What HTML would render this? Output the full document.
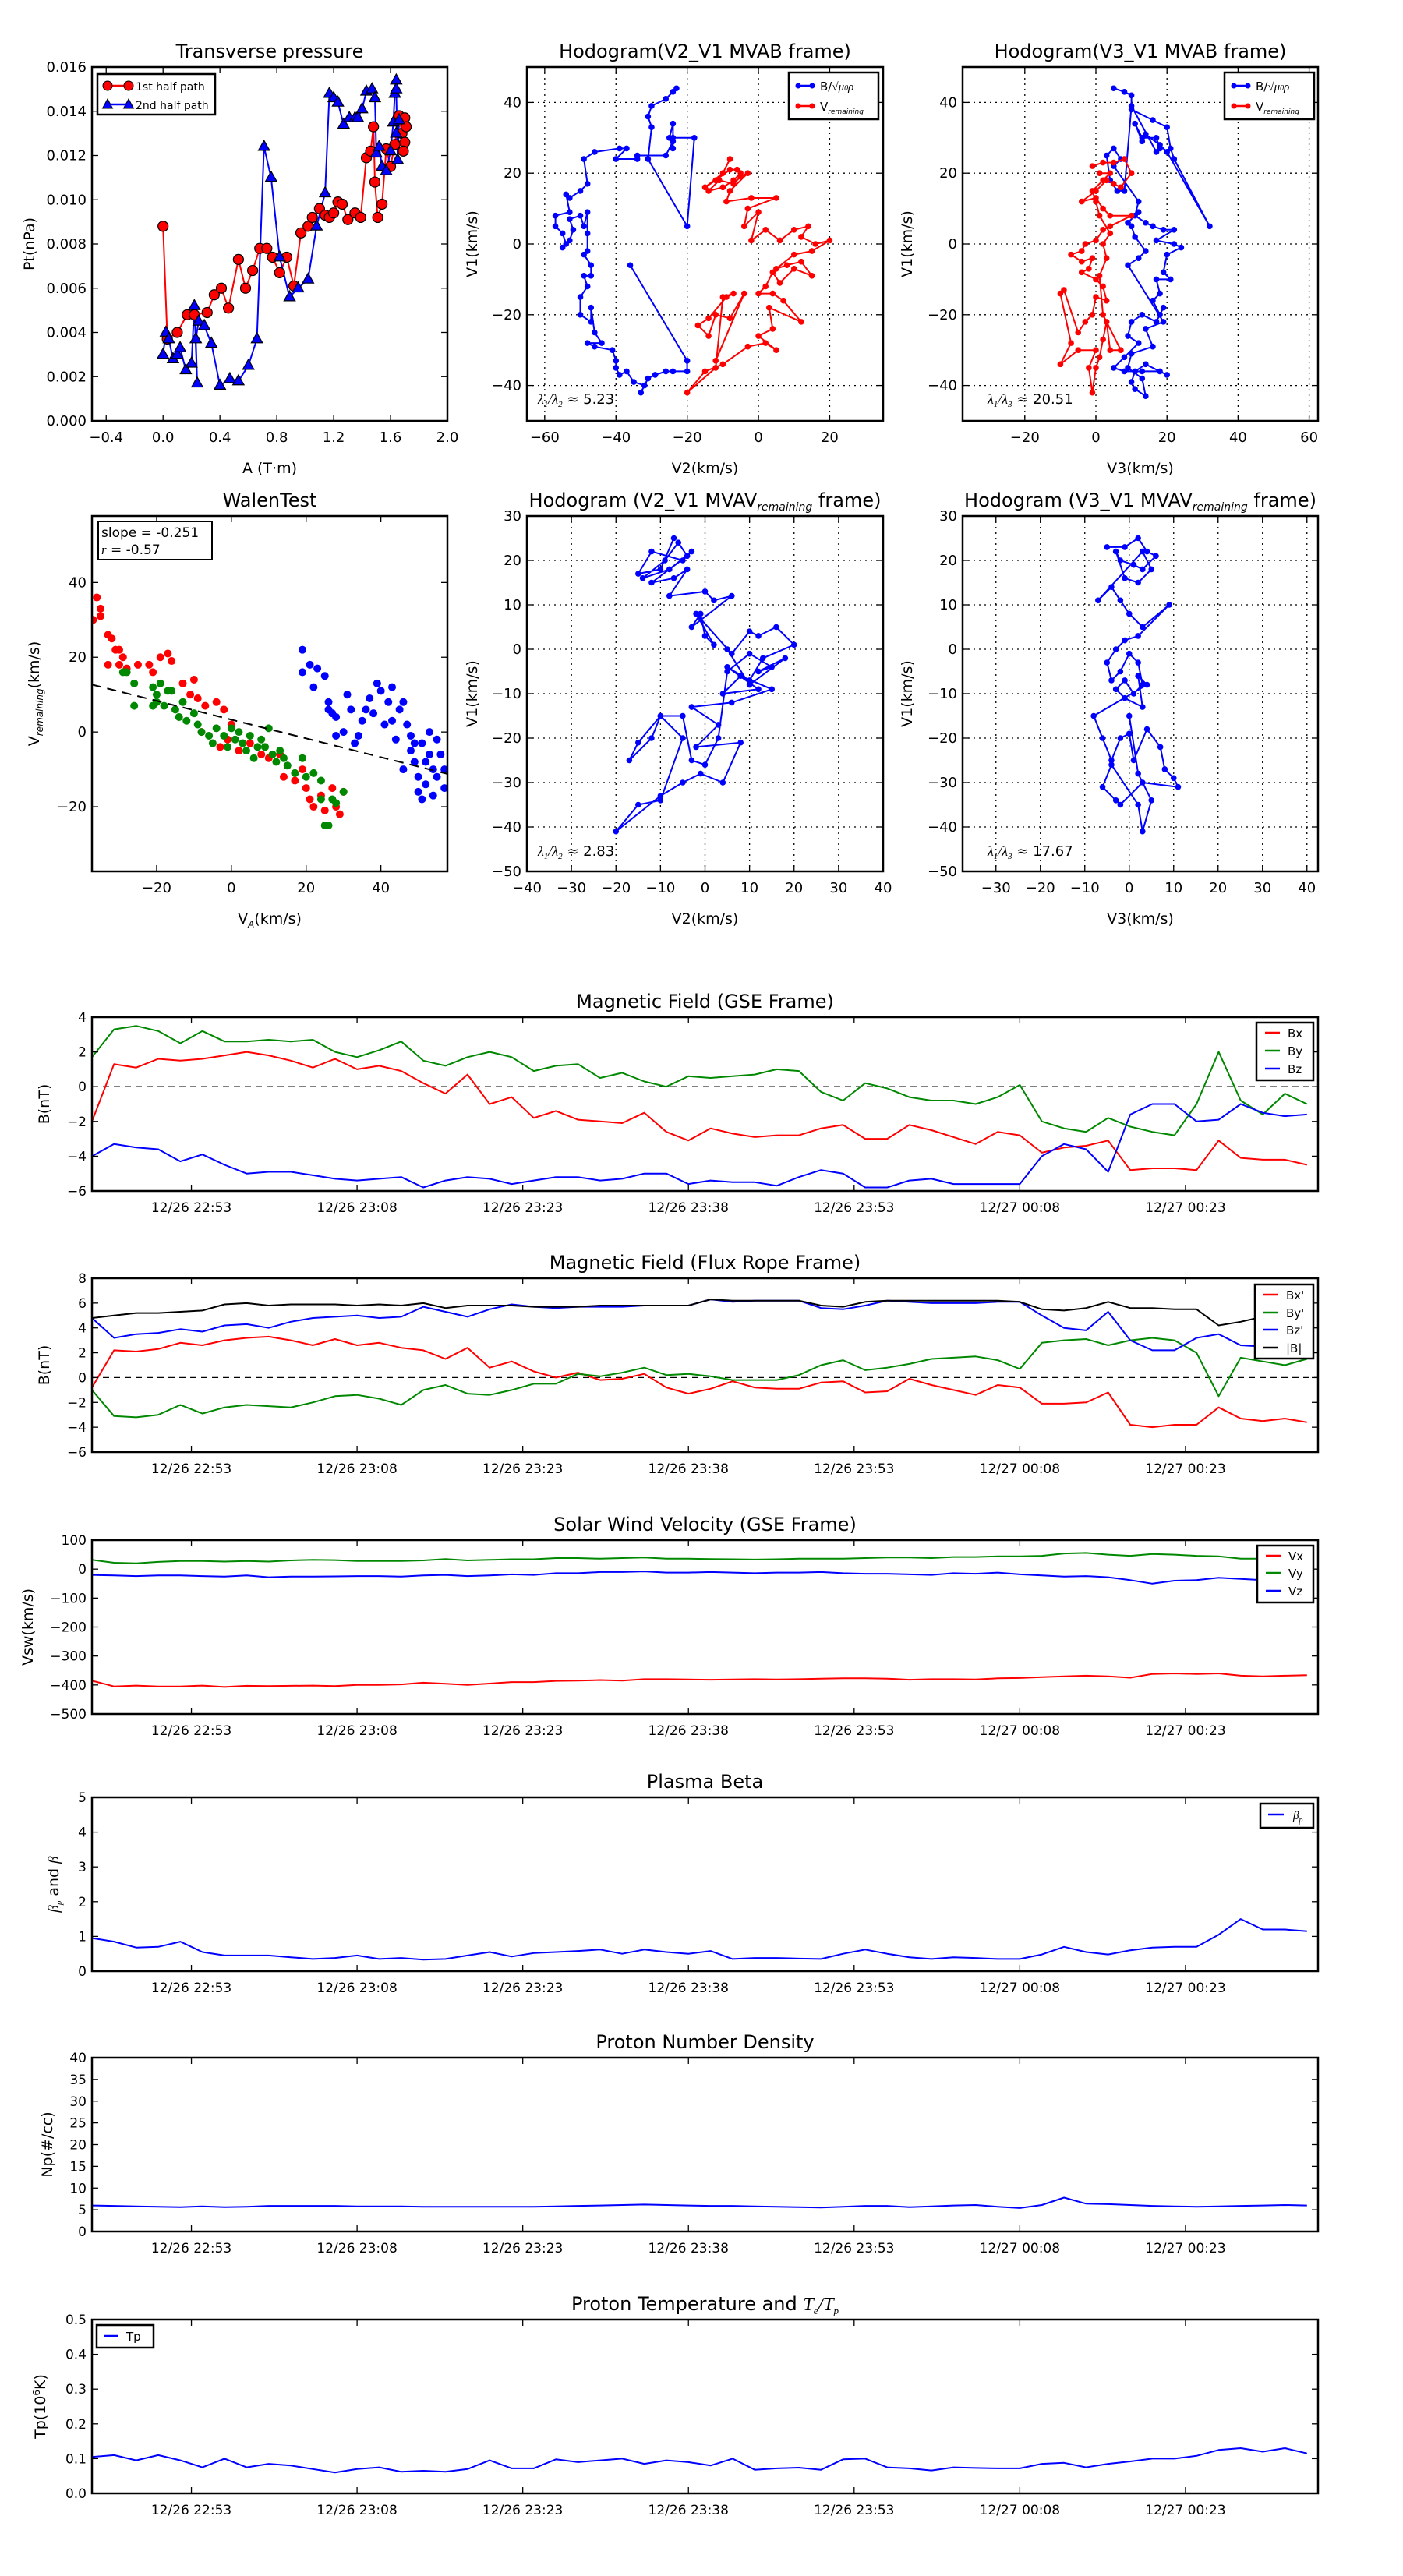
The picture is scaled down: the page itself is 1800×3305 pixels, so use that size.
<!DOCTYPE html>
<html><head><meta charset="utf-8"><style>
html,body{margin:0;padding:0;background:#fff;}
svg text{font-family:"DejaVu Sans","Liberation Sans",sans-serif;}
</style></head><body>
<svg id="fig" xmlns="http://www.w3.org/2000/svg" width="1800" height="3300" viewBox="0 0 1800 3300">
<rect width="1800" height="3300" fill="#fff"/>
</svg>
<script>
// ---------- time series data (minutes after 12/26 22:44) ----------
const T = [0,2,4,6,8,10,12,14,16,18,20,22,24,26,28,30,32,34,36,38,40,42,44,46,48,50,52,54,56,58,60,62,64,66,68,70,72,74,76,78,80,82,84,86,88,90,92,94,96,98,100,102,104,106,108,110];
const TIME_TICKS = [9,24,39,54,69,84,99];
const TIME_LABELS = ["12/26 22:53","12/26 23:08","12/26 23:23","12/26 23:38","12/26 23:53","12/27 00:08","12/27 00:23"];
const BX_GSE = [-2.0,1.3,1.1,1.6,1.5,1.6,1.8,2.0,1.8,1.5,1.1,1.6,1.0,1.2,0.9,0.2,-0.4,0.7,-1.0,-0.6,-1.8,-1.4,-1.9,-2.0,-2.1,-1.5,-2.6,-3.1,-2.4,-2.7,-2.9,-2.8,-2.8,-2.4,-2.2,-3.0,-3.0,-2.2,-2.5,-2.9,-3.3,-2.6,-2.8,-3.8,-3.5,-3.4,-3.1,-4.8,-4.7,-4.7,-4.8,-3.1,-4.1,-4.2,-4.2,-4.5];
const BY_GSE = [1.7,3.3,3.5,3.2,2.5,3.2,2.6,2.6,2.7,2.6,2.7,2.0,1.7,2.1,2.6,1.5,1.2,1.7,2.0,1.7,0.9,1.2,1.3,0.5,0.8,0.3,0.0,0.6,0.5,0.6,0.7,1.0,0.9,-0.3,-0.8,0.2,-0.1,-0.6,-0.8,-0.8,-1.0,-0.6,0.1,-2.0,-2.4,-2.6,-1.8,-2.3,-2.6,-2.8,-1.0,2.0,-0.8,-1.6,-0.4,-1.0];
const BZ_GSE = [-4.0,-3.3,-3.5,-3.6,-4.3,-3.9,-4.5,-5.0,-4.9,-4.9,-5.1,-5.3,-5.4,-5.3,-5.2,-5.8,-5.4,-5.2,-5.3,-5.6,-5.4,-5.2,-5.2,-5.4,-5.3,-5.0,-5.0,-5.6,-5.4,-5.5,-5.5,-5.7,-5.2,-4.8,-5.0,-5.8,-5.8,-5.4,-5.3,-5.6,-5.6,-5.6,-5.6,-4.0,-3.3,-3.6,-4.9,-1.6,-1.0,-1.0,-2.0,-1.9,-1.0,-1.5,-1.7,-1.6];
const BX_FR = [-0.8,2.2,2.1,2.3,2.8,2.6,3.0,3.2,3.3,3.0,2.6,3.1,2.6,2.8,2.4,2.2,1.5,2.4,0.8,1.3,0.5,0.0,0.4,-0.2,-0.1,0.3,-0.8,-1.3,-0.9,-0.3,-0.8,-0.9,-0.9,-0.4,-0.3,-1.2,-1.1,-0.1,-0.6,-1.0,-1.4,-0.6,-0.8,-2.1,-2.1,-2.0,-1.2,-3.8,-4.0,-3.8,-3.8,-2.4,-3.3,-3.5,-3.3,-3.6];
const BY_FR = [-1.0,-3.1,-3.2,-3.0,-2.2,-2.9,-2.4,-2.2,-2.3,-2.4,-2.0,-1.5,-1.4,-1.7,-2.2,-1.0,-0.6,-1.3,-1.4,-1.0,-0.5,-0.5,0.3,0.1,0.4,0.8,0.2,0.3,0.1,-0.2,-0.2,-0.2,0.2,1.0,1.4,0.6,0.8,1.1,1.5,1.6,1.7,1.4,0.7,2.8,3.0,3.1,2.6,3.0,3.2,3.0,2.0,-1.5,1.6,1.3,1.0,1.5];
const BZ_FR = [4.8,3.2,3.5,3.6,3.9,3.7,4.2,4.3,4.0,4.5,4.8,4.9,5.0,4.8,4.9,5.7,5.3,4.9,5.5,5.9,5.7,5.6,5.7,5.7,5.7,5.8,5.8,5.8,6.3,6.1,6.2,6.2,6.2,5.6,5.5,5.8,6.2,6.1,6.0,6.0,6.0,6.1,6.1,5.0,4.0,3.8,5.3,3.0,2.2,2.2,3.2,3.5,2.6,2.5,3.0,2.7];
const BT_FR = [4.8,5.0,5.2,5.2,5.3,5.4,5.9,6.0,5.8,5.9,5.9,5.9,5.8,5.9,5.8,6.0,5.6,5.8,5.8,5.8,5.7,5.7,5.7,5.8,5.8,5.8,5.8,5.8,6.3,6.2,6.2,6.2,6.2,5.8,5.7,6.1,6.2,6.2,6.2,6.2,6.2,6.2,6.1,5.5,5.4,5.6,6.1,5.6,5.6,5.5,5.5,4.2,4.5,4.9,4.8,4.9];
const VX = [-385,-405,-402,-405,-405,-402,-407,-403,-404,-403,-402,-404,-400,-400,-398,-392,-396,-400,-395,-390,-390,-386,-385,-383,-385,-380,-380,-381,-382,-381,-380,-381,-380,-378,-377,-377,-378,-382,-380,-380,-381,-377,-376,-373,-370,-368,-370,-375,-362,-360,-362,-360,-368,-370,-368,-366];
const VY = [32,22,20,25,28,28,26,28,26,30,32,31,28,28,28,30,35,30,32,34,34,38,38,36,38,40,36,36,35,34,33,34,36,36,36,38,40,40,38,42,42,44,44,46,54,56,50,46,52,50,46,44,36,36,44,40];
const VZ = [-20,-22,-24,-22,-22,-24,-26,-22,-28,-26,-26,-25,-24,-24,-26,-22,-20,-24,-22,-18,-20,-14,-14,-10,-10,-8,-12,-12,-10,-12,-14,-12,-12,-10,-14,-16,-16,-18,-20,-14,-16,-12,-18,-22,-26,-24,-28,-38,-50,-40,-38,-30,-34,-38,-42,-40];
const BETA = [0.95,0.85,0.68,0.7,0.85,0.55,0.45,0.45,0.45,0.4,0.35,0.38,0.45,0.35,0.38,0.33,0.35,0.45,0.55,0.42,0.52,0.55,0.58,0.62,0.5,0.62,0.55,0.5,0.58,0.35,0.38,0.38,0.36,0.35,0.5,0.62,0.5,0.4,0.35,0.4,0.38,0.35,0.35,0.48,0.7,0.55,0.48,0.6,0.68,0.7,0.7,1.05,1.5,1.2,1.2,1.15];
const NP = [6.0,5.9,5.8,5.7,5.6,5.8,5.6,5.7,5.9,5.9,5.9,5.9,5.8,5.8,5.8,5.7,5.7,5.7,5.7,5.7,5.7,5.8,5.9,6.0,6.1,6.2,6.1,6.0,5.9,5.9,5.8,5.7,5.6,5.5,5.7,5.9,5.9,5.6,5.8,6.0,6.1,5.7,5.4,6.1,7.8,6.4,6.3,6.1,5.9,5.8,5.7,5.8,5.9,6.0,6.1,6.0];
const TP = [0.105,0.11,0.095,0.11,0.095,0.075,0.1,0.075,0.085,0.08,0.07,0.06,0.07,0.075,0.062,0.065,0.062,0.07,0.095,0.072,0.072,0.098,0.09,0.095,0.1,0.085,0.095,0.09,0.08,0.1,0.068,0.072,0.074,0.068,0.098,0.1,0.075,0.072,0.066,0.075,0.073,0.072,0.072,0.085,0.088,0.075,0.085,0.092,0.1,0.1,0.108,0.125,0.13,0.12,0.13,0.115];

// ---------- scatter / hodogram data ----------
const PT_RED_A = [0,0.03,0.1,0.17,0.22,0.31,0.36,0.41,0.46,0.53,0.58,0.63,0.68,0.73,0.77,0.82,0.87,0.92,0.97,1.02,1.05,1.1,1.14,1.17,1.2,1.23,1.26,1.3,1.35,1.39,1.43,1.46,1.48,1.49,1.51,1.54,1.57,1.6,1.63,1.66,1.68,1.7,1.71,1.7,1.69];
const PT_RED_P = [0.0088,0.0037,0.004,0.0048,0.0048,0.0049,0.0057,0.006,0.0051,0.0073,0.006,0.0068,0.0078,0.0078,0.0074,0.0067,0.0074,0.0061,0.0085,0.0088,0.0092,0.0096,0.0093,0.0092,0.0094,0.0099,0.0098,0.0091,0.0094,0.0092,0.0119,0.0122,0.0133,0.0108,0.0092,0.0098,0.0123,0.0115,0.0125,0.0138,0.013,0.0137,0.0133,0.0126,0.0122];
const PT_BLUE_A = [0,0.02,0.04,0.07,0.1,0.12,0.16,0.2,0.22,0.24,0.23,0.25,0.29,0.34,0.4,0.47,0.53,0.6,0.66,0.71,0.76,0.82,0.89,0.95,1.02,1.08,1.14,1.17,1.2,1.23,1.27,1.31,1.35,1.37,1.4,1.43,1.47,1.49,1.5,1.52,1.54,1.57,1.6,1.62,1.63,1.64,1.64,1.65,1.66,1.64];
const PT_BLUE_P = [0.003,0.004,0.0037,0.0028,0.003,0.0033,0.0023,0.0026,0.0052,0.0017,0.0037,0.0045,0.0043,0.0035,0.0016,0.0019,0.0018,0.0025,0.0037,0.0124,0.011,0.0074,0.0056,0.006,0.0064,0.0088,0.0103,0.0148,0.0146,0.0144,0.0134,0.0137,0.0137,0.0137,0.0141,0.0149,0.015,0.0146,0.0121,0.0124,0.0115,0.0113,0.0122,0.0135,0.0148,0.0154,0.015,0.0118,0.0136,0.013];
const H1B_X = [-23,-24,-26,-30,-31,-30,-31,-20,-18,-24,-24,-25,-24,-24,-26,-34,-34,-40,-37,-39,-46,-49,-48,-50,-53,-54,-53,-57,-57,-55,-54,-55,-53,-52,-53,-50,-49,-48,-48,-48,-49,-47,-47,-49,-48,-50,-50,-47,-47,-46,-44,-48,-46,-41,-40,-40,-39,-37,-35,-32,-33,-31,-29,-26,-24,-20,-20,-36];
const H1B_Y = [44,43,41,39,36,33,24,5,30,30,34,30,27,29,25,25,24,24,27,27,26,24,17,15,13,14,9,8,5,3,0,-1,1,4,7,8,5,9,3,-2,-3,-6,-9,-9,-12,-15,-20,-22,-18,-25,-28,-28,-29,-30,-33,-35,-37,-36,-39,-40,-42,-38,-37,-36,-36,-36,-33,-6];
const H1R_X = [-8,-10,-15,-12,-8,-6,-5,-7,-10,-14,-11,-7,-5,-3,-8,-9,-2,5,-3,-4,0,-2,2,6,10,14,12,16,20,15,10,5,8,12,15,10,6,4,2,0,4,7,12,3,4,0,5,2,-3,-10,-15,-20,-12,-10,-7,-9,-14,-17,-14,-12,-8,-4,-12];
const H1R_Y = [24,20,16,18,21,21,20,18,16,15,18,17,19,20,15,12,13,13,10,5,9,1,4,1,4,5,2,0,1,-2,-3,-7,-6,-5,-9,-7,-11,-8,-12,-14,-14,-16,-22,-18,-24,-26,-30,-28,-29,-34,-36,-42,-35,-15,-14,-15,-21,-23,-26,-20,-21,-14,-33];
const H2B_X = [5,8,10,10,16,20,21,22,32,20,18,14,13,11,13,17,18,17,10,8,6,4,3,5,7,5,12,11,14,16,19,22,17,22,24,20,19,21,17,18,16,18,19,17,13,10,9,12,8,5,8,13,18,20,14,11,10,11,14,13,9,10,16,14,19,9,12,14,11,10,9,12];
const H2B_Y = [44,43,42,38,35,33,27,24,5,26,28,31,29,34,30,30,27,26,39,15,15,18,25,27,24,22,12,8,6,5,4,4,1,0,-1,-3,-8,-10,-10,-14,-16,-20,-18,-22,-20,-22,-26,-28,-32,-35,-36,-36,-36,-37,-34,-36,-39,-41,-43,-38,-35,-31,-29,-24,-22,-6,-4,-2,2,5,6,9];
const H2R_X = [-1,2,5,8,10,7,5,3,0,-4,0,2,4,10,4,2,0,-3,-4,-7,-4,-1,-2,-4,0,2,3,0,-1,-3,-5,-9,-10,-7,-10,-5,0,-2,-1,0,1,2,3,4,7,2,1,3,2,4,1,0,-1,2,4,1];
const H2R_Y = [22,23,23,24,20,16,17,18,15,12,13,10,8,8,5,4,1,0,-2,-3,-5,-4,-7,-8,-10,-12,-16,-15,-20,-22,-25,-13,-14,-28,-34,-30,-30,-35,-42,-35,-32,-27,-22,-30,-30,-20,-9,-4,0,3,8,12,15,18,20,20];
const WALEN_RED_X = [-37,-36,-35,-35,-33,-32,-31,-30,-29,-28,-25,-22,-21,-19,-17,-16,-13,-11,-10,-9,-7,-4,-2,0,-1,-3,2,5,8,10,14,17,19,20,21,22,24,25,27,28,29,30,-30,-33,-8,13];
const WALEN_RED_Y = [30,36,33,31,26,25,22,18,20,17,18,18,16,20,21,19,13,10,14,9,7,8,6,2,-2,-4,-5,-3,-6,-7,-12,-13,-10,-15,-18,-20,-17,-21,-15,-20,-22,-16,22,18,0,-6];
const WALEN_GREEN_X = [-29,-28,-26,-26,-21,-20,-20,-19,-18,-17,-15,-14,-13,-12,-10,-9,-8,-6,-5,-4,-2,-1,0,1,2,3,4,5,6,7,8,9,10,11,12,13,14,15,17,19,20,22,24,24,25,26,27,28,30,-21,-16];
const WALEN_GREEN_Y = [16,16,13,7,12,10,8,13,7,11,6,4,8,3,5,2,0,-1,-3,1,-1,-4,1,-2,0,-3,-5,-1,-7,-4,-2,-4,1,-6,-8,-5,-7,-9,-11,-7,-12,-11,-13,-18,-25,-25,-18,-19,-16,7,11];
const WALEN_BLUE_X = [19,19,21,22,23,25,26,26,27,28,28,30,31,32,33,34,35,36,37,38,39,40,41,42,43,43,44,45,46,47,48,49,49,50,50,51,52,52,53,54,54,55,55,56,57,57,53,51,48,46];
const WALEN_BLUE_Y = [22,16,18,12,17,15,8,6,5,4,-1,0,10,6,-3,-1,3,6,9,5,13,11,2,8,12,3,-2,6,8,2,-1,-3,-8,-12,-16,-3,-8,-14,-6,-10,-17,-2,-12,-6,-15,-10,0,-18,-5,-10];
const H3_X = [-7,-10,-15,-12,-5,-3,-8,-14,-9,-6,-4,-12,-7,-4,-8,0,2,6,-3,-1,0,2,-2,6,10,12,16,20,13,10,5,12,4,8,15,6,-3,3,-2,8,4,-1,-5,-10,-20,-15,-10,-5,-10,-15,-17,-12,-10,-5,-3,0,3,5,10,15,12,18,10,5];
const H3_Y = [25,18,17,22,20,22,18,16,20,24,21,15,16,18,12,13,11,12,5,8,3,1,8,-1,4,3,5,1,-2,-7,-4,-9,-10,-6,-9,-12,-13,-17,-22,-21,-30,-28,-30,-33,-41,-35,-34,-20,-15,-21,-25,-20,-15,-15,-25,-26,-20,-5,-1,-4,-5,-2,-8,0];
const H4_X = [-5,-1,2,4,6,3,1,-2,-3,-1,2,5,3,-7,-4,-2,0,3,9,2,-1,-3,-5,-4,-2,0,2,3,1,-1,-3,-1,3,2,4,-8,-6,-4,-2,0,1,4,7,8,10,11,3,-2,-3,-6,-4,2,3,5,2,0];
const H4_Y = [23,23,25,22,21,18,19,20,22,16,15,18,22,11,14,11,8,5,10,3,2,0,-3,-7,-5,-1,-3,-8,-10,-7,-9,-11,-13,-6,-8,-15,-20,-25,-20,-19,-25,-18,-22,-27,-29,-31,-30,-35,-34,-31,-26,-35,-41,-34,-28,-15];
const WALEN_SLOPE = -0.251, WALEN_ICPT = 3.3;

// ---------- helpers ----------
const NS = "http://www.w3.org/2000/svg";
const svg = document.getElementById("fig");
function mk(tag, attrs, parent, text){
  const e = document.createElementNS(NS, tag);
  for (const k in attrs) e.setAttribute(k, attrs[k]);
  if (text !== undefined) e.textContent = text;
  (parent || svg).appendChild(e);
  return e;
}
function scale(d0,d1,p0,p1){ return v => p0 + (v-d0)/(d1-d0)*(p1-p0); }

function axes(o){
  const g = mk("g", {});
  
  
  const X = scale(o.xd[0],o.xd[1],o.x0,o.x1), Y = scale(o.yd[0],o.yd[1],o.y1,o.y0);
  const clipId = "c"+o.name;
  const cp = mk("clipPath",{id:clipId},g);
  mk("rect",{x:o.x0,y:o.y0,width:o.x1-o.x0,height:o.y1-o.y0},cp);
  // grid
  if (o.grid){
    o.xt.forEach(v=>{ const x=X(v); if(x>o.x0+1&&x<o.x1-1){ const l=mk("line",{x1:x,x2:x,y1:o.y0,y2:o.y1,stroke:"#000","stroke-width":1.3,"stroke-dasharray":"2,5"},g);   }});
    o.yt.forEach(v=>{ const y=Y(v); if(y>o.y0+1&&y<o.y1-1){ const l=mk("line",{x1:o.x0,x2:o.x1,y1:y,y2:y,stroke:"#000","stroke-width":1.3,"stroke-dasharray":"2,5"},g);   }});
  }
  const plot = mk("g",{"clip-path":"url(#"+clipId+")"},g);
  // ticks
  const tk = mk("g",{stroke:"#000","stroke-width":1.3},g);
  o.xt.forEach((v,i)=>{ const x=X(v);
    mk("line",{x1:x,x2:x,y1:o.y1,y2:o.y1-8},tk); mk("line",{x1:x,x2:x,y1:o.y0,y2:o.y0+8},tk);
    const t = mk("text",{x:x,y:o.y1+27,"text-anchor":"middle","font-size":o.fs||18,stroke:"none"},g,(o.xl?o.xl[i]:fmt(v,o.xdec)));
     
  });
  o.yt.forEach(v=>{ const y=Y(v);
    mk("line",{x1:o.x0,x2:o.x0+8,y1:y,y2:y},tk); mk("line",{x1:o.x1,x2:o.x1-8,y1:y,y2:y},tk);
    const t = mk("text",{x:o.x0-7,y:y+6,"text-anchor":"end","font-size":o.fs||18},g,fmt(v,o.ydec));
     
  });
  const fr = mk("rect",{x:o.x0,y:o.y0,width:o.x1-o.x0,height:o.y1-o.y0,fill:"none",stroke:"#000","stroke-width":2.5},g);
   
  const ti = mk("text",{x:(o.x0+o.x1)/2,y:o.y0-12,"text-anchor":"middle","font-size":24},g);
  ti.innerHTML = o.title;
   
  if (o.xlabel){ const t=mk("text",{x:(o.x0+o.x1)/2,y:o.y1+67,"text-anchor":"middle","font-size":19},g); t.innerHTML=o.xlabel;   }
  if (o.ylabel){ const cx=o.ylx, cy=(o.y0+o.y1)/2; const t=mk("text",{x:cx,y:cy,"text-anchor":"middle","font-size":19,transform:`rotate(-90 ${cx} ${cy})`},g); t.innerHTML=o.ylabel;   }
  return {X,Y,g,plot};
}
function fmt(v,d){ const s = d===undefined? String(v) : v.toFixed(d); return s.replace("-","\u2212"); }

function line(ax, xs, ys, color, w, name, dash){
  const n = Math.min(xs.length, ys.length);
  let d=""; for(let i=0;i<n;i++) d += (i?"L":"M")+ax.X(xs[i]).toFixed(1)+","+ax.Y(ys[i]).toFixed(1);
  const p = mk("path",{d:d,fill:"none",stroke:color,"stroke-width":w||2,"stroke-linejoin":"round"},ax.plot);
  if (dash) p.setAttribute("stroke-dasharray",dash);
   
  return p;
}
function dots(ax, xs, ys, color, r, name, stroke){
  const g = mk("g",{},ax.plot);
   
  const n = Math.min(xs.length, ys.length);
  for(let i=0;i<n;i++){
    const c = mk("circle",{cx:ax.X(xs[i]),cy:ax.Y(ys[i]),r:r,fill:color},g);
    if (stroke){ c.setAttribute("stroke",stroke); c.setAttribute("stroke-width",1.2); }
     
  }
}
function tris(ax, xs, ys, color, s, name){
  const g = mk("g",{},ax.plot);
   
  const n = Math.min(xs.length, ys.length);
  for(let i=0;i<n;i++){ const x=ax.X(xs[i]), y=ax.Y(ys[i]);
    const p = mk("polygon",{points:`${x},${y-s} ${x-s*0.9},${y+s*0.6} ${x+s*0.9},${y+s*0.6}`,fill:color,stroke:"#000","stroke-width":1.2},g);
     
  }
}
function legend(x,y,w,h,items,name,fs){
  const g = mk("g",{});
   
  mk("rect",{x:x,y:y,width:w,height:h,fill:"#fff",stroke:"#000","stroke-width":2.5},g);
  items.forEach(it=>{
    const e = mk("g",{},g);
     
    mk("line",{x1:x+it.lx0,x2:x+it.lx1,y1:it.y,y2:it.y,stroke:it.c,"stroke-width":2.5},e);
    if (it.m==="o"){ mk("circle",{cx:x+it.lx0,cy:it.y,r:6,fill:it.c,stroke:"#000"},e); mk("circle",{cx:x+it.lx1,cy:it.y,r:6,fill:it.c,stroke:"#000"},e); }
    if (it.m==="^"){ [it.lx0,it.lx1].forEach(a=>{const xx=x+a; mk("polygon",{points:`${xx},${it.y-7} ${xx-6.5},${it.y+5} ${xx+6.5},${it.y+5}`,fill:it.c,stroke:"#000"},e);}); }
    if (it.m==="."){ mk("circle",{cx:x+it.lx0,cy:it.y,r:3.5,fill:it.c},e); mk("circle",{cx:x+it.lx1,cy:it.y,r:3.5,fill:it.c},e); }
    const t = mk("text",{x:x+it.tx,y:it.y+6,"font-size":fs||16},e); t.innerHTML = it.t;
  });
}

// ---------- Row 1 ----------
const p1 = axes({name:"transverse-pressure-chart",x0:118,x1:574,y0:86,y1:540,xd:[-0.5,2.0],yd:[0,0.016],
  xt:[-0.4,0,0.4,0.8,1.2,1.6,2.0],xdec:1,yt:[0,0.002,0.004,0.006,0.008,0.010,0.012,0.014,0.016],ydec:3,
  title:"Transverse pressure",xlabel:"A (T·m)",ylabel:"Pt(nPa)",ylx:44});
line(p1,PT_RED_A,PT_RED_P,"#f00",2,"first-half-line");
line(p1,PT_BLUE_A,PT_BLUE_P,"#00f",2,"second-half-line");
dots(p1,PT_RED_A,PT_RED_P,"#f00",6.5,"first-half-markers","#000");
tris(p1,PT_BLUE_A,PT_BLUE_P,"#00f",8,"second-half-markers");
legend(125,95,151,52,[{lx0:13,lx1:40,y:110,c:"#f00",m:"o",t:"1st half path",tx:49},{lx0:13,lx1:40,y:134,c:"#00f",m:"^",t:"2nd half path",tx:49}],"pressure-legend",14);

const p2 = axes({name:"hodogram-v2-v1-mvab",x0:676,x1:1133,y0:86,y1:540,xd:[-65,35],yd:[-50,50],
  xt:[-60,-40,-20,0,20],yt:[-40,-20,0,20,40],grid:true,
  title:"Hodogram(V2_V1 MVAB frame)",xlabel:"V2(km/s)",ylabel:"V1(km/s)",ylx:612});
line(p2,H1B_X,H1B_Y,"#00f",2,"b-alfven-path"); dots(p2,H1B_X,H1B_Y,"#00f",3.8,"b-alfven");
line(p2,H1R_X,H1R_Y,"#f00",2,"v-remaining-path"); dots(p2,H1R_X,H1R_Y,"#f00",3.8,"v-remaining");
legend(1012,93,115,60,[{lx0:12,lx1:30,y:110,c:"#00f",m:".",t:'B/<tspan font-style="italic" font-family="Liberation Serif">√μ<tspan font-size="10">0</tspan>ρ</tspan>',tx:40},{lx0:12,lx1:30,y:136,c:"#f00",m:".",t:'V<tspan font-size="9" font-style="italic" dy="4">remaining</tspan>',tx:40}],"hodogram-mvab-legend",15);
mk("text",{x:690,y:518,"font-size":18},svg).innerHTML='<tspan font-style="italic" font-family="Liberation Serif">λ<tspan font-size="11" dy="4">1</tspan><tspan dy="-4">/λ</tspan><tspan font-size="11" dy="4">2</tspan></tspan><tspan dy="-4"> ≈ 5.23</tspan>';

const p3 = axes({name:"hodogram-v3-v1-mvab",x0:1235,x1:1691,y0:86,y1:540,xd:[-37.5,62.5],yd:[-50,50],
  xt:[-20,0,20,40,60],yt:[-40,-20,0,20,40],grid:true,
  title:"Hodogram(V3_V1 MVAB frame)",xlabel:"V3(km/s)",ylabel:"V1(km/s)",ylx:1170});
line(p3,H2B_X,H2B_Y,"#00f",2,"b-alfven-path-v3"); dots(p3,H2B_X,H2B_Y,"#00f",3.8,"b-alfven-v3");
line(p3,H2R_X,H2R_Y,"#f00",2,"v-remaining-path-v3"); dots(p3,H2R_X,H2R_Y,"#f00",3.8,"v-remaining-v3");
legend(1571,93,115,60,[{lx0:12,lx1:30,y:110,c:"#00f",m:".",t:'B/<tspan font-style="italic" font-family="Liberation Serif">√μ<tspan font-size="10">0</tspan>ρ</tspan>',tx:40},{lx0:12,lx1:30,y:136,c:"#f00",m:".",t:'V<tspan font-size="9" font-style="italic" dy="4">remaining</tspan>',tx:40}],"hodogram-v3-legend",15);
mk("text",{x:1267,y:518,"font-size":18},svg).innerHTML='<tspan font-style="italic" font-family="Liberation Serif">λ<tspan font-size="11" dy="4">1</tspan><tspan dy="-4">/λ</tspan><tspan font-size="11" dy="4">3</tspan></tspan><tspan dy="-4"> ≈ 20.51</tspan>';

// ---------- Row 2 ----------
const p4 = axes({name:"walen-test-chart",x0:118,x1:574,y0:662,y1:1118,xd:[-37.3,57.8],yd:[-37.3,57.8],
  xt:[-20,0,20,40],yt:[-20,0,20,40],
  title:"WalenTest",xlabel:'V<tspan font-size="12" font-style="italic" dy="5">A</tspan><tspan dy="-5">(km/s)</tspan>',
  ylabel:'V<tspan font-size="12" font-style="italic" dy="5">remaining</tspan><tspan dy="-5">(km/s)</tspan>',ylx:50});
dots(p4,WALEN_RED_X,WALEN_RED_Y,"#f00",5,"walen-red");
dots(p4,WALEN_GREEN_X,WALEN_GREEN_Y,"#080",5,"walen-green");
dots(p4,WALEN_BLUE_X,WALEN_BLUE_Y,"#00f",5,"walen-blue");
line(p4,[-37.3,57.8],[WALEN_SLOPE*-37.3+WALEN_ICPT,WALEN_SLOPE*57.8+WALEN_ICPT],"#000",2,"walen-fit-line","12,8");
(function(){ const g=mk("g",{});  
  mk("rect",{x:126,y:669,width:146,height:49,fill:"#fff",stroke:"#000","stroke-width":2},g);
  mk("text",{x:130,y:689,"font-size":17},g,"slope = -0.251");
  mk("text",{x:130,y:711,"font-size":17},g).innerHTML='<tspan font-style="italic" font-family="Liberation Serif">r</tspan> = -0.57'; })();

const p5 = axes({name:"hodogram-v2-v1-mvav",x0:676,x1:1133,y0:662,y1:1118,xd:[-40,40],yd:[-50,30],
  xt:[-40,-30,-20,-10,0,10,20,30,40],yt:[-50,-40,-30,-20,-10,0,10,20,30],grid:true,
  title:'Hodogram (V2_V1 MVAV<tspan font-size="14" font-style="italic" dy="5">remaining</tspan><tspan dy="-5"> frame)</tspan>',xlabel:"V2(km/s)",ylabel:"V1(km/s)",ylx:612});
line(p5,H3_X,H3_Y,"#00f",2,"mvav-v2-path"); dots(p5,H3_X,H3_Y,"#00f",3.8,"mvav-v2-points");
mk("text",{x:690,y:1098,"font-size":18},svg).innerHTML='<tspan font-style="italic" font-family="Liberation Serif">λ<tspan font-size="11" dy="4">1</tspan><tspan dy="-4">/λ</tspan><tspan font-size="11" dy="4">2</tspan></tspan><tspan dy="-4"> ≈ 2.83</tspan>';

const p6 = axes({name:"hodogram-v3-v1-mvav",x0:1235,x1:1691,y0:662,y1:1118,xd:[-37.5,42.5],yd:[-50,30],
  xt:[-30,-20,-10,0,10,20,30,40],yt:[-50,-40,-30,-20,-10,0,10,20,30],grid:true,
  title:'Hodogram (V3_V1 MVAV<tspan font-size="14" font-style="italic" dy="5">remaining</tspan><tspan dy="-5"> frame)</tspan>',xlabel:"V3(km/s)",ylabel:"V1(km/s)",ylx:1170});
line(p6,H4_X,H4_Y,"#00f",2,"mvav-v3-path"); dots(p6,H4_X,H4_Y,"#00f",3.8,"mvav-v3-points");
mk("text",{x:1267,y:1098,"font-size":18},svg).innerHTML='<tspan font-style="italic" font-family="Liberation Serif">λ<tspan font-size="11" dy="4">1</tspan><tspan dy="-4">/λ</tspan><tspan font-size="11" dy="4">3</tspan></tspan><tspan dy="-4"> ≈ 17.67</tspan>';

// ---------- time series ----------
function tpanel(name,y0,title,yd,yt,ylabel,ylx,ydec){
  return axes({name:name,x0:118,x1:1691,y0:y0,y1:y0+223,xd:[0,111],yd:yd,xt:TIME_TICKS,xl:TIME_LABELS,yt:yt,ydec:ydec,
    title:title,ylabel:ylabel,ylx:ylx,fs:17});
}
const m1 = tpanel("magnetic-field-gse-chart",1305,"Magnetic Field (GSE Frame)",[-6,4],[-6,-4,-2,0,2,4],"B(nT)",63);
line(m1,[0,111],[0,0],"#000",1.3,"zero-line","8,6");
line(m1,T,BX_GSE,"#f00",2,"bx-line"); line(m1,T,BY_GSE,"#080",2,"by-line"); line(m1,T,BZ_GSE,"#00f",2,"bz-line");
legend(1612,1312,73,74,[{lx0:11,lx1:30,y:1325,c:"#f00",t:"Bx",tx:40},{lx0:11,lx1:30,y:1348,c:"#080",t:"By",tx:40},{lx0:11,lx1:30,y:1371,c:"#00f",t:"Bz",tx:40}],"gse-legend",15);

const m2 = tpanel("magnetic-field-flux-rope-chart",1640,"Magnetic Field (Flux Rope Frame)",[-6,8],[-6,-4,-2,0,2,4,6,8],"B(nT)",63);
line(m2,[0,111],[0,0],"#000",1.3,"zero-line","8,6");
line(m2,T,BX_FR,"#f00",2,"bx-prime-line"); line(m2,T,BY_FR,"#080",2,"by-prime-line"); line(m2,T,BZ_FR,"#00f",2,"bz-prime-line"); line(m2,T,BT_FR,"#000",2,"b-magnitude-line");
legend(1610,1648,75,95,[{lx0:11,lx1:30,y:1661,c:"#f00",t:"Bx'",tx:40},{lx0:11,lx1:30,y:1684,c:"#080",t:"By'",tx:40},{lx0:11,lx1:30,y:1706,c:"#00f",t:"Bz'",tx:40},{lx0:11,lx1:30,y:1729,c:"#000",t:"|B|",tx:40}],"flux-rope-legend",15);

const m3 = tpanel("solar-wind-velocity-chart",1976,"Solar Wind Velocity (GSE Frame)",[-500,100],[-500,-400,-300,-200,-100,0,100],"Vsw(km/s)",42);
line(m3,T,VX,"#f00",2,"vx-line"); line(m3,T,VY,"#080",2,"vy-line"); line(m3,T,VZ,"#00f",2,"vz-line");
legend(1613,1983,72,73,[{lx0:11,lx1:30,y:1996,c:"#f00",t:"Vx",tx:40},{lx0:11,lx1:30,y:2018,c:"#080",t:"Vy",tx:40},{lx0:11,lx1:30,y:2041,c:"#00f",t:"Vz",tx:40}],"velocity-legend",15);

const m4 = tpanel("plasma-beta-chart",2306,"Plasma Beta",[0,5],[0,1,2,3,4,5],'<tspan font-style="italic" font-family="Liberation Serif">β<tspan font-size="11" dy="4">p</tspan></tspan><tspan dy="-4"> and </tspan><tspan font-style="italic" font-family="Liberation Serif">β</tspan>',75);
line(m4,T,BETA,"#00f",2,"beta-line");
legend(1617,2314,68,31,[{lx0:10,lx1:30,y:2328,c:"#00f",t:'<tspan font-style="italic" font-family="Liberation Serif">β<tspan font-size="10" dy="4">p</tspan></tspan>',tx:42}],"beta-legend",15);

const m5 = tpanel("proton-density-chart",2640,"Proton Number Density",[0,40],[0,5,10,15,20,25,30,35,40],"Np(#/cc)",67);
line(m5,T,NP,"#00f",2,"density-line");

const m6 = tpanel("proton-temperature-chart",2976,'Proton Temperature and <tspan font-style="italic" font-family="Liberation Serif">T<tspan font-size="13" dy="5">e</tspan><tspan dy="-5">/T</tspan><tspan font-size="13" dy="5">p</tspan></tspan>',[0,0.5],[0,0.1,0.2,0.3,0.4,0.5],'Tp(10<tspan font-size="12" dy="-7">6</tspan><tspan dy="7">K)</tspan>',58,1);
line(m6,T,TP,"#00f",2,"temperature-line");
legend(124,2983,73,29,[{lx0:9,lx1:28,y:2997,c:"#00f",t:"Tp",tx:38}],"temperature-legend",15);
</script>
</body></html>
